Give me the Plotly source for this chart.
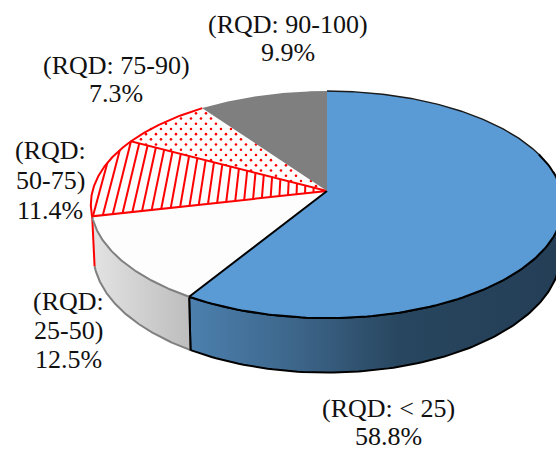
import numpy as np
import plotly.graph_objects as go

# Share of each rock-quality class, clockwise from 12 o'clock
classes = ["RQD: < 25", "RQD: 25-50", "RQD: 50-75", "RQD: 75-90", "RQD: 90-100"]
shares = [58.8, 12.5, 11.4, 7.3, 9.9]

# Projection of the tilted disc onto the page
APEX_X, APEX_Y = 327.0, 191.0
HALF_W, HALF_H = 234.5, 111.9
PERSPECTIVE = 0.1194
THICKNESS = 48.0
BASE_NARROWING = 0.99

RED = "#FF0000"
FONT = dict(family="Liberation Serif", size=26, color="#111111")


def project(theta, lower=False):
    """Map clockwise angles (radians, 0 at the top) to page coordinates."""
    theta = np.asarray(theta, dtype=float)
    u, v = np.sin(theta), np.cos(theta)
    s = 1.0 / (1.0 + PERSPECTIVE * v)
    x = HALF_W * u * s
    y = APEX_Y - HALF_H * v * s
    if lower:
        return APEX_X + x * BASE_NARROWING, y + THICKNESS * s
    return APEX_X + x, y


def arc(a, b, lower=False, n=120):
    return project(np.linspace(a, b, n), lower)


def sector(a, b):
    x, y = arc(a, b)
    return (np.r_[APEX_X, x, APEX_X], np.r_[APEX_Y, y, APEX_Y])


def wall(a, b):
    xt, yt = arc(a, b)
    xb, yb = arc(b, a, lower=True)
    return np.r_[xt, xb, xt[0]], np.r_[yt, yb, yt[0]]


def inside(px, py, poly_x, poly_y):
    """Even-odd point-in-polygon test."""
    hit = False
    for i in range(len(poly_x) - 1):
        x0, y0, x1, y1 = poly_x[i], poly_y[i], poly_x[i + 1], poly_y[i + 1]
        if (y0 > py) != (y1 > py) and px < x0 + (py - y0) * (x1 - x0) / (y1 - y0):
            hit = not hit
    return hit


total = sum(shares)
edges = 2 * np.pi * np.cumsum([0] + shares) / total
a_blue, a_white, a_hatch, a_dots, a_grey = edges[1], edges[2], edges[3], edges[4], edges[5]

fig = go.Figure()


def poly(x, y, fill=None, line=None, width=2, **kw):
    fig.add_trace(go.Scatter(
        x=x, y=y, mode="lines", hoverinfo="skip", showlegend=False,
        fill="toself" if fill or "fillgradient" in kw else None, fillcolor=fill,
        line=dict(color=line or "rgba(0,0,0,0)", width=width if line else 0), **kw))


# Outer wall: blue class on the right, pale class on the left
x, y = wall(np.radians(80), a_blue)
poly(x, y, line="#000000", fillgradient=dict(
    type="horizontal",
    colorscale=[[0, "#4C80AE"], [0.3, "#3C6488"], [0.56, "#28465F"], [1, "#243E56"]]))
x, y = wall(a_blue, a_white)
poly(x, y, fillgradient=dict(
    type="horizontal", colorscale=[[0, "#E3E3E3"], [1, "#BDBDBD"]]))
poly(*arc(a_blue, a_white, lower=True), line="#808080")
sx, sy = project(a_white), project(a_white, lower=True)
poly([sx[0], sy[0]], [sx[1], sy[1]], line=RED)
bx, by = project(a_blue), project(a_blue, lower=True)
poly([bx[0], by[0]], [bx[1], by[1]], line="#000000")

# Dotted sector, stippled on a staggered grid
x, y = sector(a_hatch, a_dots)
poly(x, y, fill="#FFFFFF")
dot_x, dot_y = [], []
for row, gy in enumerate(np.arange(y.min(), y.max(), 5.2)):
    for gx in np.arange(x.min() + (row % 2) * 5.0, x.max(), 10.0):
        if inside(gx, gy, x, y):
            dot_x.append(gx)
            dot_y.append(gy)
fig.add_trace(go.Scatter(x=dot_x, y=dot_y, mode="markers", hoverinfo="skip", showlegend=False,
                         marker=dict(color=RED, size=2.6, line=dict(width=0))))
poly(*arc(a_hatch, a_dots), line=RED)

# Pale sector
x, y = sector(a_blue, a_white)
poly(x, y, fill="#FDFDFD")
poly(*arc(a_blue, a_white), line="#808080")

# Hatched sector: steep rules fanning towards the centre
x, y = sector(a_white, a_hatch)
poly(x, y, fill="#FDFDFD")
ux, uy = project(a_hatch)
hatch_x, hatch_y = [], []
step = 8.3 / (APEX_X - ux)
for t in np.arange(-5 * step, 0.99, step):
    tx = ux + t * (APEX_X - ux)
    ty = uy + t * (APEX_Y - uy)
    lean = 0.25 * (1 - t)
    depth = np.arange(-1, 110, 0.25)
    px, py = tx - lean * depth, ty + depth
    keep = np.flatnonzero([inside(a, b, x, y) for a, b in zip(px, py)])
    if keep.size:
        hatch_x += [px[keep[0]], px[keep[-1]], None]
        hatch_y += [py[keep[0]], py[keep[-1]], None]
poly(hatch_x, hatch_y, line=RED, width=2)
poly(x, y, line=RED, width=2)

# Blue sector: heavier outline along the front, hairline along the back
x, y = sector(0, a_blue)
poly(x, y, fill="#5B9BD5")
poly(*arc(0, np.radians(70)), line="#1A1A1A", width=1.4)
poly(*arc(np.radians(70), a_blue), line="#000000", width=2)
ex, ey = project(a_blue)
poly([APEX_X, ex], [APEX_Y, ey], line="#000000", width=2)

# Grey sector last, so its edge closes over the blue outline
x, y = sector(a_dots, a_grey)
poly(x, y, fill="#7F7F7F")

# Labels, one annotation per line; the two narrow ones wrap after the colon
labels = [
    (f"({classes[0]})", f"{shares[0]}%"),
    (f"({classes[1][:4]}", f"{classes[1][5:]})", f"{shares[1]}%"),
    (f"({classes[2][:4]}", f"{classes[2][5:]})", f"{shares[2]}%"),
    (f"({classes[3]})", f"{shares[3]}%"),
    (f"({classes[4]})", f"{shares[4]}%"),
]
label_x = [388, 68, 50, 116, 288]
label_y = [[408, 436], [301, 330, 359], [150, 180, 210], [65, 93], [24, 52]]
for lines, lx, ys in zip(labels, label_x, label_y):
    for text, ly in zip(lines, ys):
        fig.add_annotation(x=lx, y=ly, text=text.replace("<", "&lt;"), showarrow=False, font=FONT,
                           xanchor="center", yanchor="middle")

fig.update_layout(
    width=556, height=450, margin=dict(l=0, r=0, t=0, b=0),
    paper_bgcolor="#FFFFFF", plot_bgcolor="#FFFFFF",
    xaxis=dict(range=[0, 556], visible=False, fixedrange=True),
    yaxis=dict(range=[450, 0], visible=False, fixedrange=True),
)
fig.write_html("out.html")
